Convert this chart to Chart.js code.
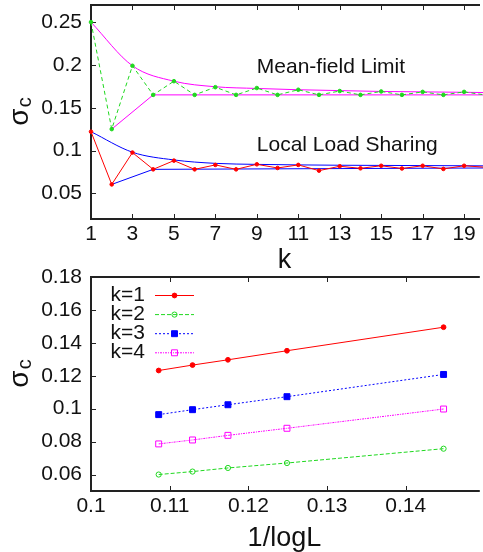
<!DOCTYPE html>
<html>
<head>
<meta charset="utf-8">
<script src="https://cdn.jsdelivr.net/npm/chart.js@4.4.0/dist/chart.umd.min.js"></script>
<style>
  html, body { margin: 0; padding: 0; background: #fff; }
  #wrap { position: relative; width: 483px; height: 552px; overflow: hidden; }
  #topChart { position: absolute; left: 0; top: 0; }
  #bottomChart { position: absolute; left: 0; top: 262px; }
</style>
</head>
<body>
<div id="wrap">
  <canvas id="topChart" width="483" height="280"></canvas>
  <canvas id="bottomChart" width="483" height="290"></canvas>
</div>
<script>
// ---------- top panel: sigma_c against bundle size k ----------
const kValues = [1, 2, 3, 4, 5, 6, 7, 8, 9, 10, 11, 12, 13, 14, 15, 16, 17, 18, 19, 20];
const meanFieldSim = [0.25, 0.125, 0.199, 0.165, 0.181, 0.165, 0.174, 0.165, 0.173, 0.165,
                      0.171, 0.165, 0.1695, 0.165, 0.169, 0.165, 0.1685, 0.165, 0.1685, 0.165];
const localLoadSim = [0.122, 0.0604, 0.0976, 0.078, 0.0882, 0.078, 0.0832, 0.078, 0.0839, 0.0796,
                      0.0832, 0.0765, 0.0816, 0.0792, 0.0822, 0.079, 0.0822, 0.0785, 0.0822, 0.0805];
// envelopes (odd k from above, even k from below)
const kOdd = [1, 3, 5, 7, 9, 11, 13, 15, 17, 19, 21];
const kEven = [2, 4, 6, 8, 10, 12, 14, 16, 18, 20];
const meanFieldUpper = [0.25, 0.199, 0.181, 0.1745, 0.1725, 0.171, 0.170, 0.169, 0.1685, 0.168, 0.1675];
const meanFieldLower = [0.125, 0.165, 0.165, 0.165, 0.165, 0.165, 0.165, 0.165, 0.165, 0.165];
const localLoadUpper = [0.122, 0.098, 0.089, 0.085, 0.0838, 0.0832, 0.0828, 0.0826, 0.0824, 0.0822, 0.082];
const localLoadLower = [0.0604, 0.078, 0.0782, 0.0784, 0.0786, 0.0788, 0.079, 0.0792, 0.0794, 0.0796];
const kTicks = [1, 3, 5, 7, 9, 11, 13, 15, 17, 19];
const sigmaTicksTop = [0.05, 0.1, 0.15, 0.2, 0.25];

// ---------- bottom panel: sigma_c against 1/logL ----------
const invLogL = [0.1086, 0.1129, 0.1174, 0.1249, 0.1448];
const sigmaK1 = [0.1232, 0.1265, 0.1297, 0.1352, 0.1495];
const sigmaK2 = [0.0600, 0.0618, 0.0640, 0.0670, 0.0757];
const sigmaK3 = [0.0964, 0.0994, 0.1024, 0.1073, 0.1208];
const sigmaK4 = [0.0786, 0.0810, 0.0838, 0.0881, 0.0998];
const kLabels = ["k=1", "k=2", "k=3", "k=4"];
const invLogLTicks = [0.1, 0.11, 0.12, 0.13, 0.14];
const sigmaTicksBottom = [0.06, 0.08, 0.1, 0.12, 0.14, 0.16, 0.18];

const RED = "#ff0000";
const GREEN = "#1fd81f";
const BLUE = "#0000ff";
const MAGENTA = "#ff00ff";
const TXT = "#111";
const FONT = '"Liberation Sans", Arial, Helvetica, sans-serif';

Chart.defaults.font.family = FONT;
Chart.defaults.color = TXT;

function pts(xs, ys) {
  return xs.map((x, i) => ({ x: x, y: ys[i] }));
}

function markPoint(ctx, style, r, x, y, fill, stroke) {
  ctx.beginPath();
  if (style === "rect") {
    const s = Math.SQRT1_2 * r;
    ctx.rect(x - s, y - s, 2 * s, 2 * s);
  } else {
    ctx.arc(x, y, r, 0, Math.PI * 2);
  }
  ctx.fillStyle = fill;
  ctx.fill();
  ctx.lineWidth = 1;
  ctx.strokeStyle = stroke;
  ctx.stroke();
}

// frame, inward ticks, rotated sigma_c label, text labels and key
const decor = {
  id: "decor",
  beforeDatasetsDraw(chart, args, opts) {
    const { ctx, chartArea: a, scales } = chart;
    ctx.save();
    ctx.strokeStyle = "#222";
    ctx.lineWidth = 1;
    scales.x.ticks.forEach(t => {
      const px = Math.round(scales.x.getPixelForValue(t.value)) + 0.5;
      ctx.beginPath();
      ctx.moveTo(px, a.bottom);
      ctx.lineTo(px, a.bottom - 5);
      ctx.moveTo(px, a.top);
      ctx.lineTo(px, a.top + 5);
      ctx.stroke();
    });
    scales.y.ticks.forEach(t => {
      const py = Math.round(scales.y.getPixelForValue(t.value)) + 0.5;
      ctx.beginPath();
      ctx.moveTo(a.left, py);
      ctx.lineTo(a.left + 5, py);
      ctx.stroke();
    });
    // right edge of the frame is outside the picture
    ctx.lineWidth = 2;
    ctx.beginPath();
    ctx.moveTo(a.right + 2, a.top);
    ctx.lineTo(a.left, a.top);
    ctx.lineTo(a.left, a.bottom);
    ctx.lineTo(a.right + 2, a.bottom);
    ctx.stroke();
    ctx.restore();
  },
  afterDraw(chart, args, opts) {
    const { ctx, scales } = chart;
    ctx.save();
    ctx.fillStyle = TXT;

    // sigma_c, rotated
    ctx.save();
    ctx.translate(opts.sigmaAt[0], opts.sigmaAt[1]);
    ctx.rotate(-Math.PI / 2);
    ctx.textAlign = "left";
    ctx.textBaseline = "alphabetic";
    ctx.font = "28px " + FONT;
    const ws = ctx.measureText("σ").width;
    ctx.font = "20px " + FONT;
    const wc = ctx.measureText("c").width;
    const x0 = -(ws + wc) / 2;
    ctx.font = "28px " + FONT;
    ctx.fillText("σ", x0, 0);
    ctx.font = "20px " + FONT;
    ctx.fillText("c", x0 + ws + 1, 3);
    ctx.restore();

    (opts.notes || []).forEach(n => {
      ctx.font = "21px " + FONT;
      ctx.textAlign = "left";
      ctx.textBaseline = "alphabetic";
      ctx.fillText(n.text, scales.x.getPixelForValue(n.x), scales.y.getPixelForValue(n.y));
    });

    if (opts.key) {
      const k = opts.key;
      chart.data.datasets.forEach((ds, i) => {
        const y = k.y0 + i * k.dy;
        ctx.font = "21px " + FONT;
        ctx.textAlign = "right";
        ctx.textBaseline = "middle";
        ctx.fillStyle = TXT;
        ctx.fillText(ds.label, k.textRight, y);
        ctx.save();
        ctx.strokeStyle = ds.borderColor;
        ctx.lineWidth = ds.borderWidth;
        ctx.setLineDash(ds.borderDash || []);
        ctx.beginPath();
        ctx.moveTo(k.x0, y + 0.5);
        ctx.lineTo(k.x1, y + 0.5);
        ctx.stroke();
        ctx.setLineDash([]);
        markPoint(ctx, ds.pointStyle, ds.pointRadius, (k.x0 + k.x1) / 2, y + 0.5,
                  ds.pointBackgroundColor, ds.pointBorderColor);
        ctx.restore();
      });
    }
    ctx.restore();
  }
};

function axes(xMin, xMax, xTicks, yMin, yMax, yTicks, xTitle, titlePad) {
  return {
    x: {
      type: "linear",
      min: xMin,
      max: xMax,
      afterBuildTicks: s => { s.ticks = xTicks.map(v => ({ value: v })); },
      afterFit: s => { s.height = 61; s.paddingLeft = 0; s.paddingRight = 0; },
      grid: { display: false, drawTicks: false },
      border: { display: false },
      ticks: { font: { size: 21 }, padding: 3, maxRotation: 0, autoSkip: false, callback: v => String(v) },
      title: { display: true, text: xTitle, font: { size: 27 }, padding: { top: 0, bottom: titlePad } }
    },
    y: {
      type: "linear",
      min: yMin,
      max: yMax,
      afterBuildTicks: s => { s.ticks = yTicks.map(v => ({ value: v })); },
      // labels are not at the very top, so drop the label padding Chart.js adds
      afterFit: s => { s.width = 91; s.paddingTop = 0; s.paddingBottom = 0; },
      grid: { display: false, drawTicks: false },
      border: { display: false },
      ticks: { font: { size: 21 }, padding: 9, autoSkip: false, callback: v => String(v) }
    }
  };
}

function line(label, xs, ys, color, extra) {
  return Object.assign({
    label: label,
    data: pts(xs, ys),
    borderColor: color,
    backgroundColor: color,
    borderWidth: 1,
    pointRadius: 0,
    clip: false
  }, extra || {});
}

const dot = { pointRadius: 1.8, pointStyle: "circle", pointBorderWidth: 1 };

new Chart(document.getElementById("topChart"), {
  type: "line",
  data: {
    datasets: [
      line("Local Load Sharing", kValues, localLoadSim, RED,
           Object.assign({ pointBackgroundColor: RED, pointBorderColor: RED }, dot)),
      line("Mean-field Limit", kValues, meanFieldSim, GREEN,
           Object.assign({ borderDash: [4, 3], pointBackgroundColor: GREEN, pointBorderColor: GREEN }, dot)),
      line("LLS upper", kOdd, localLoadUpper, BLUE, { cubicInterpolationMode: "monotone" }),
      line("LLS lower", kEven, localLoadLower, BLUE),
      line("MF upper", kOdd, meanFieldUpper, MAGENTA, { cubicInterpolationMode: "monotone" }),
      line("MF lower", kEven, meanFieldLower, MAGENTA)
    ]
  },
  options: {
    responsive: false,
    animation: false,
    events: [],
    layout: { padding: { top: 5, left: 0, right: 0, bottom: 0 } },
    scales: axes(1, 19.67, kTicks, 0.02, 0.27, sigmaTicksTop, "k", 3),
    plugins: {
      legend: { display: false },
      tooltip: { enabled: false },
      decor: {
        sigmaAt: [28, 112],
        notes: [
          { text: "Mean-field Limit", x: 9, y: 0.19 },
          { text: "Local Load Sharing", x: 9, y: 0.1 }
        ]
      }
    }
  },
  plugins: [decor]
});

new Chart(document.getElementById("bottomChart"), {
  type: "line",
  data: {
    datasets: [
      line(kLabels[0], invLogL, sigmaK1, RED,
           { pointStyle: "circle", pointRadius: 2.4, pointBackgroundColor: RED, pointBorderColor: RED, pointBorderWidth: 1 }),
      line(kLabels[1], invLogL, sigmaK2, GREEN,
           { borderDash: [4, 2], pointStyle: "circle", pointRadius: 2.6, pointBackgroundColor: "rgba(0,0,0,0)", pointBorderColor: GREEN, pointBorderWidth: 1 }),
      line(kLabels[2], invLogL, sigmaK3, BLUE,
           { borderDash: [2, 2], pointStyle: "rect", pointRadius: 4.2, pointBackgroundColor: BLUE, pointBorderColor: BLUE, pointBorderWidth: 1 }),
      line(kLabels[3], invLogL, sigmaK4, MAGENTA,
           { borderDash: [2, 1, 1, 1], pointStyle: "rect", pointRadius: 4.2, pointBackgroundColor: "rgba(0,0,0,0)", pointBorderColor: MAGENTA, pointBorderWidth: 1 })
    ]
  },
  options: {
    responsive: false,
    animation: false,
    events: [],
    layout: { padding: { top: 15, left: 0, right: 0, bottom: 0 } },
    scales: axes(0.1, 0.14915, invLogLTicks, 0.05, 0.18, sigmaTicksBottom, "1/logL", -3),
    plugins: {
      legend: { display: false },
      tooltip: { enabled: false },
      decor: {
        sigmaAt: [28, 112],
        key: { textRight: 145, x0: 155, x1: 194, y0: 33, dy: 19.1 }
      }
    }
  },
  plugins: [decor]
});
</script>
</body>
</html>
